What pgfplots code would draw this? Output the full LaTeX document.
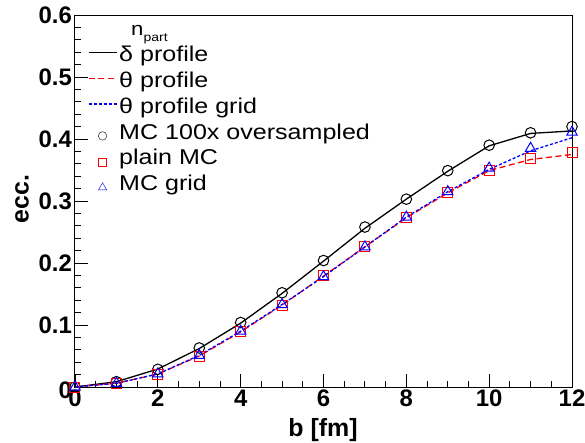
\documentclass[border=0pt]{standalone}
\usepackage{fontspec}
\setmainfont{Liberation Sans}
\newfontfamily\legfont[FakeStretch=1.17]{Liberation Sans}
\usepackage{pgfplots}
\pgfplotsset{compat=1.18}
\definecolor{rootred}{RGB}{255,0,0}
\definecolor{rootblue}{RGB}{0,0,255}
\pgfplotsset{
  linelegend/.style={legend image code/.code={\draw[##1] (0bp,6bp) -- (28bp,6bp);}},
  marklegend/.style={legend image code/.code={\draw[##1, mark options={scale=0.8}] plot coordinates {(14bp,0bp)};}},
}
\begin{document}
\begin{tikzpicture}
\begin{axis}[
  scale only axis,
  width=497bp, height=372bp,
  xmin=0, xmax=12, ymin=0, ymax=0.6,
  clip=false,
  axis line style={line width=1bp},
  tick style={line width=0.9bp, black},
  major tick length=13bp, minor tick length=6bp,
  tick pos=left, tick align=inside,
  xtick={0,2,4,6,8,10,12},
  xticklabels={0,2,4,6,8,10,12},
  minor x tick num=3,
  ytick={0,0.1,0.2,0.3,0.4,0.5,0.6},
  yticklabels={\smash{\raisebox{-11bp}{0}},0.1,0.2,0.3,0.4,0.5,0.6},
  minor y tick num=4,
  ticklabel style={font=\bfseries\fontsize{24}{24}\selectfont, inner sep=0pt},
  xticklabel style={yshift=-3bp},
  yticklabel style={xshift=-3bp},
  xlabel={b [fm]},
  ylabel={ecc.},
  every axis x label/.style={at={(axis description cs:0.499,-0.1156)}, anchor=center,
    font=\bfseries\fontsize{25}{25}\selectfont},
  every axis y label/.style={at={(axis description cs:-0.1066,0.5054)}, anchor=center, rotate=90,
    font=\bfseries\fontsize{25}{25}\selectfont},
  legend cell align=left,
  legend style={at={(axis description cs:0.026,0.987)}, anchor=north west,
    draw=none, fill=none, inner sep=0pt, outer sep=0pt,
    row sep=0pt, column sep=2bp,
    font=\legfont\fontsize{21.5}{21.5}\selectfont,
    nodes={inner sep=0pt, text height=16bp, text depth=9.8bp}},
]
\addlegendimage{empty legend}
\addlegendentry{\hspace*{12bp}{\fontsize{19}{19}\selectfont n}\raisebox{-6bp}{\fontsize{12}{12}\selectfont part}}

% profile curves
\addplot[black, line width=1.3bp, linelegend] coordinates {
  (0,0.000) (1,0.0085) (2,0.029) (3,0.062) (4,0.103) (5,0.151) (6,0.203)
  (7,0.256) (8,0.303) (9,0.348) (10,0.389) (11,0.409) (12,0.413)
};
\addlegendentry{δ profile}

\addplot[rootred, line width=1.3bp, dash pattern=on 6bp off 3.5bp, linelegend] coordinates {
  (0,0.000) (1,0.006) (2,0.021) (3,0.050) (4,0.089) (5,0.132) (6,0.179)
  (7,0.226) (8,0.273) (9,0.313) (10,0.349) (11,0.367) (12,0.375)
};
\addlegendentry{θ profile}

\addplot[rootblue, line width=1.3bp, dash pattern=on 3bp off 2bp, linelegend] coordinates {
  (0,0.000) (1,0.006) (2,0.021) (3,0.051) (4,0.090) (5,0.133) (6,0.178)
  (7,0.226) (8,0.274) (9,0.315) (10,0.351) (11,0.381) (12,0.402)
};
\addlegendentry{θ profile grid}

% MC points
\addplot[black, only marks, mark=o, mark size=5.3bp, mark options={line width=1bp}, marklegend] coordinates {
  (0,0.000) (1,0.0086) (2,0.0285) (3,0.063) (4,0.104) (5,0.152) (6,0.204)
  (7,0.258) (8,0.303) (9,0.349) (10,0.390) (11,0.410) (12,0.420)
};
\addlegendentry{MC 100x oversampled}

\addplot[rootred, only marks, mark=square, mark size=5bp, mark options={line width=1bp}, marklegend] coordinates {
  (0,0.000) (1,0.006) (2,0.020) (3,0.050) (4,0.089) (5,0.132) (6,0.180)
  (7,0.226) (8,0.274) (9,0.313) (10,0.350) (11,0.369) (12,0.378)
};
\addlegendentry{plain MC}

\addplot[rootblue, only marks, mark=triangle, mark size=6bp, mark options={line width=1bp}, marklegend] coordinates {
  (0,0.000) (1,0.006) (2,0.021) (3,0.051) (4,0.090) (5,0.133) (6,0.178)
  (7,0.226) (8,0.274) (9,0.315) (10,0.353) (11,0.385) (12,0.411)
};
\addlegendentry{MC grid}
\end{axis}
\pgfresetboundingbox
\path[use as bounding box] (current axis.south west) ++(-75bp,-56bp) rectangle ++(585bp,443bp);
\end{tikzpicture}
\end{document}
